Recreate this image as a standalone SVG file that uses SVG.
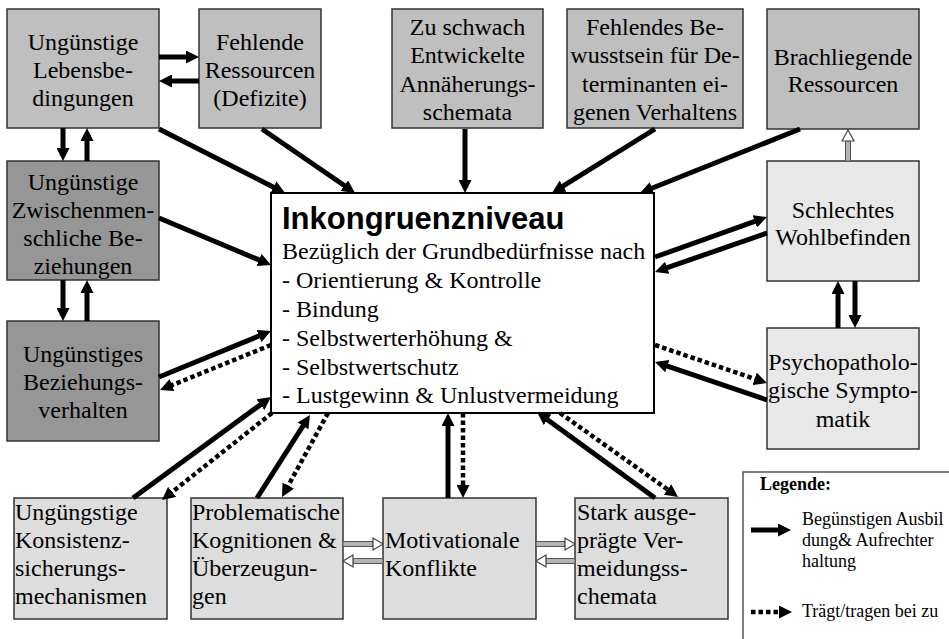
<svg xmlns="http://www.w3.org/2000/svg" width="949" height="639" viewBox="0 0 949 639">
<style>
text{font-family:"Liberation Serif","Times New Roman",serif;font-size:24px;fill:#000}
.m{text-anchor:middle}
.box{stroke:#333;stroke-width:1.5}
.g1{fill:#bfbfbf}
.g2{fill:#969696}
.g3{fill:#e8e8e8}
.g4{fill:#dddddd}
.s{stroke:#000;stroke-width:5;fill:none;marker-end:url(#ah)}
.d{stroke:#000;stroke-width:4.5;stroke-dasharray:4.5 3;fill:none;marker-end:url(#ah)}
.hs{fill:#b4b4b4;stroke:#555;stroke-width:1}
.hh{fill:#fff;stroke:#444;stroke-width:1.2}
.title{font-family:"Liberation Sans",Arial,sans-serif;font-weight:bold;font-size:31px}
.leg{font-size:18px}
</style>
<defs>
<marker id="ah" markerUnits="userSpaceOnUse" viewBox="0 0 13 13" markerWidth="13" markerHeight="13" refX="3" refY="6.5" orient="auto">
<path d="M0,0 L13,6.5 L0,13 z" fill="#000"/>
</marker>
</defs>

<g id="n-lebensbedingungen">
<rect class="box g1" x="7" y="9" width="152" height="119"/>
<text class="m" x="83" y="50">Ungünstige</text>
<text class="m" x="83" y="78">Lebensbe-</text>
<text class="m" x="83" y="106">dingungen</text>
</g>
<g id="n-fehlende-ressourcen">
<rect class="box g1" x="199" y="9" width="122" height="119"/>
<text class="m" x="260" y="50">Fehlende</text>
<text class="m" x="260" y="78">Ressourcen</text>
<text class="m" x="260" y="106">(Defizite)</text>
</g>
<g id="n-annaeherung">
<rect class="box g1" x="392" y="9" width="151" height="119"/>
<text class="m" x="467.5" y="35">Zu schwach</text>
<text class="m" x="467.5" y="63">Entwickelte</text>
<text class="m" x="467.5" y="92">Annäherungs-</text>
<text class="m" x="467.5" y="120">schemata</text>
</g>
<g id="n-bewusstsein">
<rect class="box g1" x="567" y="9" width="176" height="119"/>
<text class="m" x="655" y="35">Fehlendes Be-</text>
<text class="m" x="655" y="63">wusstsein für De-</text>
<text class="m" x="655" y="92">terminanten ei-</text>
<text class="m" x="655" y="120">genen Verhaltens</text>
</g>
<g id="n-brachliegende">
<rect class="box g1" x="767" y="9" width="152" height="120"/>
<text class="m" x="843" y="65">Brachliegende</text>
<text class="m" x="843" y="92">Ressourcen</text>
</g>
<g id="n-zwischenmenschlich">
<rect class="box g2" x="7" y="161" width="152" height="119"/>
<text class="m" x="83" y="190">Ungünstige</text>
<text class="m" x="83" y="218">Zwischenmen-</text>
<text class="m" x="83" y="246">schliche Be-</text>
<text class="m" x="83" y="274">ziehungen</text>
</g>
<g id="n-beziehungsverhalten">
<rect class="box g2" x="7" y="321" width="152" height="120"/>
<text class="m" x="83" y="362">Ungünstiges</text>
<text class="m" x="83" y="390">Beziehungs-</text>
<text class="m" x="83" y="418">verhalten</text>
</g>
<g id="n-inkongruenz">
<rect x="271" y="193" width="383" height="220" fill="#fff" stroke="#000" stroke-width="2"/>
<text class="title" x="282" y="229">Inkongruenzniveau</text>
<text x="282" y="259">Bezüglich der Grundbedürfnisse nach</text>
<text x="282" y="288">- Orientierung &amp; Kontrolle</text>
<text x="282" y="317">- Bindung</text>
<text x="282" y="346">- Selbstwerterhöhung &amp;</text>
<text x="282" y="375">- Selbstwertschutz</text>
<text x="282" y="403">- Lustgewinn &amp; Unlustvermeidung</text>
</g>
<g id="n-wohlbefinden">
<rect class="box g3" x="767" y="161" width="152" height="120"/>
<text class="m" x="843" y="218">Schlechtes</text>
<text class="m" x="843" y="245">Wohlbefinden</text>
</g>
<g id="n-symptomatik">
<rect class="box g3" x="767" y="328" width="152" height="121"/>
<text class="m" x="843" y="370">Psychopatholo-</text>
<text class="m" x="843" y="398">gische Sympto-</text>
<text class="m" x="843" y="427">matik</text>
</g>
<g id="n-konsistenz">
<rect class="box g4" x="14" y="498" width="153" height="121"/>
<text x="15" y="520">Ungüngstige</text>
<text x="15" y="548">Konsistenz-</text>
<text x="15" y="576">sicherungs-</text>
<text x="15" y="604">mechanismen</text>
</g>
<g id="n-kognitionen">
<rect class="box g4" x="191" y="498" width="152" height="121"/>
<text x="192" y="520">Problematische</text>
<text x="192" y="548">Kognitionen &amp;</text>
<text x="192" y="576">Überzeugun-</text>
<text x="192" y="604">gen</text>
</g>
<g id="n-konflikte">
<rect class="box g4" x="383" y="498" width="153" height="121"/>
<text x="385" y="548">Motivationale</text>
<text x="385" y="576">Konflikte</text>
</g>
<g id="n-vermeidung">
<rect class="box g4" x="575" y="498" width="153" height="121"/>
<text x="577" y="520">Stark ausge-</text>
<text x="577" y="548">prägte Ver-</text>
<text x="577" y="576">meidungss-</text>
<text x="577" y="604">chemata</text>
</g>

<g id="connectors">
<line class="s" x1="159" y1="57" x2="189" y2="57"/>
<line class="s" x1="199" y1="81" x2="169" y2="81"/>
<line class="s" x1="63" y1="128" x2="63" y2="151"/>
<line class="s" x1="87" y1="161" x2="87" y2="138"/>
<line class="s" x1="63" y1="280" x2="63" y2="311"/>
<line class="s" x1="87" y1="321" x2="87" y2="290"/>
<line class="s" x1="159" y1="129" x2="276.1" y2="188.5"/>
<line class="s" x1="262" y1="129" x2="346.8" y2="187.3"/>
<line class="s" x1="465" y1="129" x2="465" y2="183"/>
<line class="s" x1="655" y1="129" x2="560.5" y2="187.7"/>
<line class="s" x1="800" y1="129" x2="649.3" y2="189.3"/>
<line class="s" x1="655" y1="257" x2="757.6" y2="220.4"/>
<line class="s" x1="767" y1="233" x2="664.4" y2="268.7"/>
<line class="s" x1="838" y1="328" x2="838" y2="291"/>
<line class="s" x1="855" y1="281" x2="855" y2="318"/>
<line class="d" x1="655" y1="345" x2="757.5" y2="379.8"/>
<line class="s" x1="767" y1="400" x2="664.5" y2="365.2"/>
<line class="s" x1="159" y1="218" x2="261.8" y2="261.1"/>
<line class="s" x1="159" y1="377" x2="261.8" y2="334.8"/>
<line class="d" x1="271" y1="345" x2="169.3" y2="386.2"/>
<line class="s" x1="133" y1="498" x2="262.9" y2="402.9"/>
<line class="d" x1="272" y1="413" x2="169.8" y2="493.8"/>
<line class="s" x1="257" y1="498" x2="304.6" y2="423.4"/>
<line class="d" x1="328" y1="413" x2="286.8" y2="488.2"/>
<line class="s" x1="448" y1="498" x2="448" y2="423"/>
<line class="d" x1="463" y1="413" x2="463" y2="488"/>
<line class="s" x1="655" y1="498" x2="545.1" y2="417.9"/>
<line class="d" x1="560" y1="413" x2="669.9" y2="491.2"/>
<g id="hollow-arrows">
<rect class="hs" x="845.5" y="141" width="5" height="20"/>
<polygon class="hh" points="842,141 848,130 854,141"/>
<rect class="hs" x="343" y="541.5" width="30" height="5"/>
<polygon class="hh" points="373,538 383,544 373,550"/>
<rect class="hs" x="353" y="558.5" width="30" height="5"/>
<polygon class="hh" points="353,555 343,561 353,567"/>
<rect class="hs" x="536" y="541.5" width="29" height="5"/>
<polygon class="hh" points="565,538 575,544 565,550"/>
<rect class="hs" x="546" y="558.5" width="29" height="5"/>
<polygon class="hh" points="546,555 536,561 546,567"/>
</g>
</g>

<g id="legend">
<path d="M743,639 L743,472 L949,472" fill="none" stroke="#555" stroke-width="1.5"/>
<text class="leg" x="760" y="490" font-weight="bold">Legende:</text>
<line class="s" x1="751" y1="530" x2="781" y2="530"/>
<text class="leg" x="802" y="525">Begünstigen Ausbil</text>
<text class="leg" x="802" y="546">dung&amp; Aufrechter</text>
<text class="leg" x="802" y="567">haltung</text>
<line class="d" x1="751" y1="612" x2="782" y2="612"/>
<text class="leg" x="802" y="617">Trägt/tragen bei zu</text>
</g>
</svg>
